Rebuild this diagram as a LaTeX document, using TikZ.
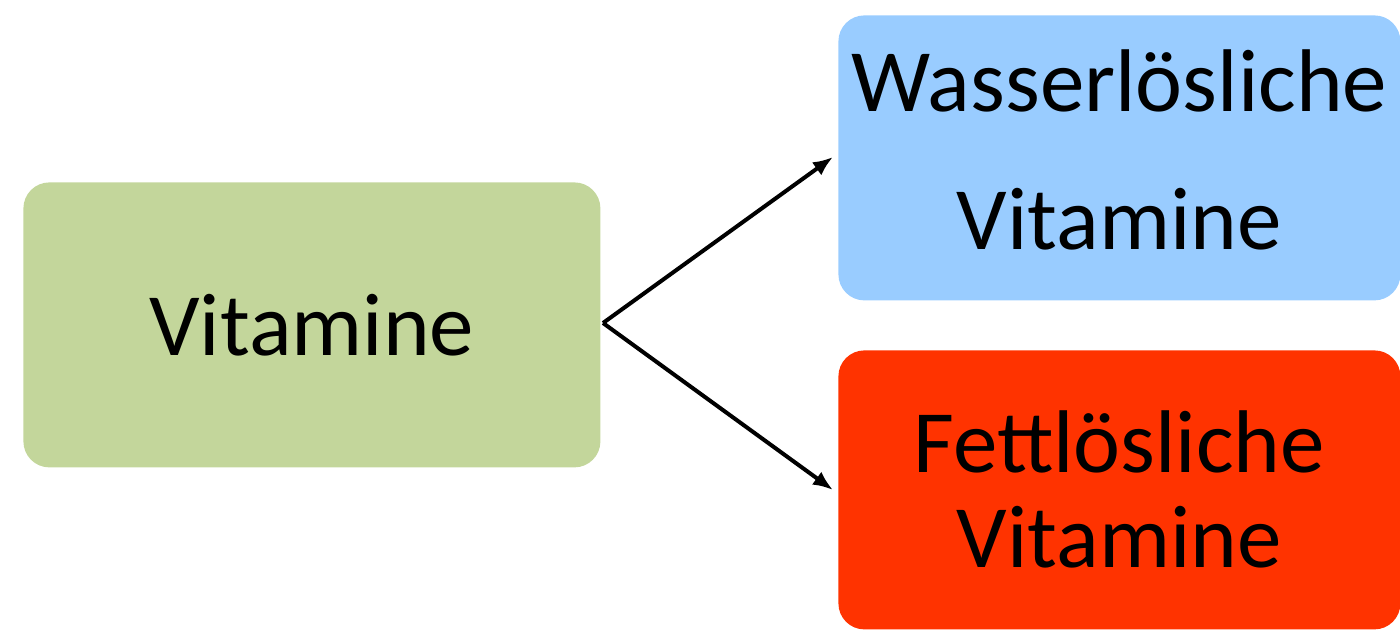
\documentclass[tikz,border=0pt]{standalone}
\usepackage{fontspec}
\setmainfont{Carlito}
\usetikzlibrary{arrows.meta}

\definecolor{vitgreen}{RGB}{195,214,155}
\definecolor{vitblue}{RGB}{153,204,255}
\definecolor{vitred}{RGB}{255,51,0}

\begin{document}
\begin{tikzpicture}[x=0.5pt,y=-0.5pt,
    box/.style={rounded corners=13pt, anchor=north west, inner sep=0pt, align=center},
    pfeil/.style={-{Latex[length=10pt,width=8pt]}, line width=2pt}]

        \useasboundingbox (0,0) rectangle (1400,630);

        \node[box, fill=vitgreen, minimum width=288.5pt, minimum height=142.5pt,
              font=\fontsize{44.5}{55}\selectfont] (vit) at (23,182) {Vitamine};

        \node[box, fill=vitblue, minimum width=281pt, minimum height=142.5pt, text depth=8pt,
              font=\fontsize{44.5}{69}\selectfont] (wasser) at (838,15) {Wasserlösliche\\Vitamine};

        \node[box, fill=vitred, minimum width=281pt, minimum height=139.5pt,
              font=\fontsize{44.5}{47.5}\selectfont] (fett) at (838,350) {Fettlösliche\\Vitamine};

        \coordinate (start) at (603,323);
        \coordinate (oben) at (833,157);
        \coordinate (unten) at (833,490);

        \draw[pfeil] (start) -- (oben);
        \draw[pfeil] (start) -- (unten);

\end{tikzpicture}
\end{document}
